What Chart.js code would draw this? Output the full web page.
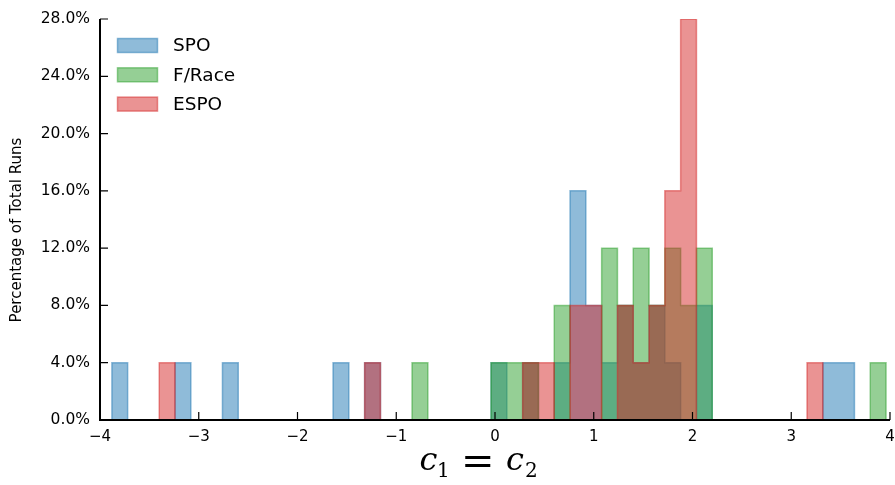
<!DOCTYPE html>
<html>
<head>
<meta charset="utf-8">
<script src="https://cdn.jsdelivr.net/npm/chart.js@4.4.1/dist/chart.umd.min.js"></script>
<style>
  html, body { margin: 0; padding: 0; background: #fff; }
  #wrap { width: 895px; height: 485px; position: relative; }
</style>
</head>
<body>
<div id="wrap"><canvas id="hist"></canvas></div>
<script>
// Histogram bin edges (shared by all three methods)
const binEdges = [
  -3.88, -3.72, -3.56, -3.40, -3.24, -3.08, -2.92, -2.76, -2.60, -2.44,
  -2.28, -2.12, -1.96, -1.80, -1.64, -1.48, -1.32, -1.16, -1.00, -0.84,
  -0.68, -0.52, -0.36, -0.20, -0.04,  0.12,  0.28,  0.44,  0.60,  0.76,
   0.92,  1.08,  1.24,  1.40,  1.56,  1.72,  1.88,  2.04,  2.20,  2.36,
   2.52,  2.68,  2.84,  3.00,  3.16,  3.32,  3.48,  3.64,  3.80,  3.96
];

// Percentage of total runs per bin
const spoPct = [
  4, 0, 0, 0, 4, 0, 0, 4, 0, 0,
  0, 0, 0, 0, 4, 0, 4, 0, 0, 0,
  0, 0, 0, 0, 4, 0, 4, 0, 4, 16,
  8, 4, 8, 4, 8, 4, 0, 8, 0, 0,
  0, 0, 0, 0, 0, 4, 4, 0, 0
];
const fRacePct = [
  0, 0, 0, 0, 0, 0, 0, 0, 0, 0,
  0, 0, 0, 0, 0, 0, 0, 0, 0, 4,
  0, 0, 0, 0, 4, 4, 4, 0, 8, 0,
  0, 12, 8, 12, 8, 12, 8, 12, 0, 0,
  0, 0, 0, 0, 0, 0, 0, 0, 4
];
const espoPct = [
  0, 0, 0, 4, 0, 0, 0, 0, 0, 0,
  0, 0, 0, 0, 0, 0, 4, 0, 0, 0,
  0, 0, 0, 0, 0, 0, 4, 4, 0, 8,
  8, 0, 8, 4, 8, 16, 28, 0, 0, 0,
  0, 0, 0, 0, 4, 0, 0, 0, 0
];

const seriesNames = ['SPO', 'F/Race', 'ESPO'];
const xTicks = [-4, -3, -2, -1, 0, 1, 2, 3, 4];
const yTicks = [0, 4, 8, 12, 16, 20, 24, 28];

const colors = {
  SPO: 'rgba(31,119,180,0.5)',
  'F/Race': 'rgba(44,160,44,0.5)',
  ESPO: 'rgba(214,39,40,0.5)'
};

// Outline of a filled step histogram: up at the first edge, flat across each bin, down at the last edge
function stepOutline(values) {
  const pts = [{ x: binEdges[0], y: 0 }];
  values.forEach((v, i) => {
    pts.push({ x: binEdges[i], y: v });
    pts.push({ x: binEdges[i + 1], y: v });
  });
  pts.push({ x: binEdges[binEdges.length - 1], y: 0 });
  return pts;
}

function minusLabel(v) {
  return v < 0 ? '\u2212' + Math.abs(v) : String(v);
}

// Draw text so that its ink box starts at (left, bottom)
function inkText(ctx, str, font, left, bottom) {
  ctx.font = font;
  ctx.textAlign = 'left';
  ctx.textBaseline = 'alphabetic';
  const m = ctx.measureText(str);
  ctx.fillText(str, left + m.actualBoundingBoxLeft, bottom - m.actualBoundingBoxDescent);
}

const frame = {
  id: 'frame',
  afterDraw(chart) {
    const { ctx, chartArea: a, scales } = chart;
    ctx.save();

    // spines (left and bottom only)
    ctx.strokeStyle = '#000';
    ctx.lineWidth = 2;
    ctx.beginPath();
    ctx.moveTo(a.left, a.top);
    ctx.lineTo(a.left, a.bottom);
    ctx.lineTo(a.right, a.bottom);
    ctx.stroke();

    // inward tick marks
    ctx.lineWidth = 1.2;
    ctx.beginPath();
    scales.x.ticks.forEach(t => {
      const x = scales.x.getPixelForValue(t.value);
      ctx.moveTo(x, a.bottom);
      ctx.lineTo(x, a.bottom - 8);
    });
    scales.y.ticks.forEach(t => {
      const y = scales.y.getPixelForValue(t.value);
      ctx.moveTo(a.left, y);
      ctx.lineTo(a.left + 8, y);
    });
    ctx.stroke();

    // legend, upper left inside the axes
    chart.data.datasets.forEach((ds, i) => {
      const cy = a.top + 26.5 + i * 29.3;
      const bx = a.left + 17.5;
      ctx.fillStyle = ds.backgroundColor;
      ctx.fillRect(bx, cy - 7, 40, 14);
      ctx.strokeStyle = ds.borderColor;
      ctx.lineWidth = 1.5;
      ctx.strokeRect(bx, cy - 7, 40, 14);
      ctx.fillStyle = '#000';
      ctx.font = '18.5px "DejaVu Sans"';
      ctx.textAlign = 'left';
      ctx.textBaseline = 'middle';
      ctx.fillText(ds.label, a.left + 73, cy + 1);
    });

    // y axis title
    ctx.save();
    ctx.translate(21, 230);
    ctx.rotate(-Math.PI / 2);
    ctx.fillStyle = '#000';
    ctx.font = '15px "DejaVu Sans"';
    ctx.textAlign = 'center';
    ctx.textBaseline = 'alphabetic';
    ctx.fillText('Percentage of Total Runs', 0, 0);
    ctx.restore();

    // x axis title: c_1 = c_2
    const cx = (a.left + a.right) / 2;
    const b = a.bottom;
    ctx.fillStyle = '#000';
    inkText(ctx, 'c', 'italic 32px "DejaVu Serif"', cx - 74.5, b + 50);
    inkText(ctx, '1', '20px "DejaVu Serif"', cx - 56, b + 57.3);
    inkText(ctx, '=', '40px "DejaVu Serif"', cx - 30, b + 46.7);
    inkText(ctx, 'c', 'italic 32px "DejaVu Serif"', cx + 12, b + 50);
    inkText(ctx, '2', '20px "DejaVu Serif"', cx + 31, b + 57.3);

    ctx.restore();
  }
};

const datasets = [spoPct, fRacePct, espoPct].map((vals, i) => ({
  label: seriesNames[i],
  data: stepOutline(vals),
  borderColor: colors[seriesNames[i]],
  backgroundColor: colors[seriesNames[i]],
  fill: 'origin',
  order: 3 - i
}));

new Chart(document.getElementById('hist'), {
  type: 'line',
  data: { datasets },
  options: {
    responsive: true,
    maintainAspectRatio: false,
    animation: false,
    events: [],
    layout: { padding: { top: 19, right: 5, left: 0, bottom: 0 } },
    elements: {
      point: { radius: 0, hoverRadius: 0 },
      line: { borderWidth: 1.5, tension: 0, borderJoinStyle: 'miter', borderCapStyle: 'butt' }
    },
    plugins: {
      legend: { display: false },
      tooltip: { enabled: false }
    },
    scales: {
      x: {
        type: 'linear',
        min: -4,
        max: 4,
        afterBuildTicks: s => { s.ticks = xTicks.map(v => ({ value: v })); },
        grid: { display: false, drawTicks: false },
        border: { display: false },
        ticks: {
          padding: 8,
          color: '#000',
          font: { family: 'DejaVu Sans', size: 15 },
          maxRotation: 0,
          autoSkip: false,
          callback: v => minusLabel(v)
        },
        afterFit: s => { s.height = 65; s.paddingLeft = 0; s.paddingRight = 0; }
      },
      y: {
        type: 'linear',
        min: 0,
        max: 28,
        afterBuildTicks: s => { s.ticks = yTicks.map(v => ({ value: v })); },
        grid: { display: false, drawTicks: false },
        border: { display: false },
        ticks: {
          padding: 10,
          color: '#000',
          font: { family: 'DejaVu Sans', size: 15.5 },
          autoSkip: false,
          callback: v => v.toFixed(1) + '%'
        },
        afterFit: s => { s.width = 100; s.paddingTop = 0; s.paddingBottom = 0; }
      }
    }
  },
  plugins: [frame]
});
</script>
</body>
</html>
